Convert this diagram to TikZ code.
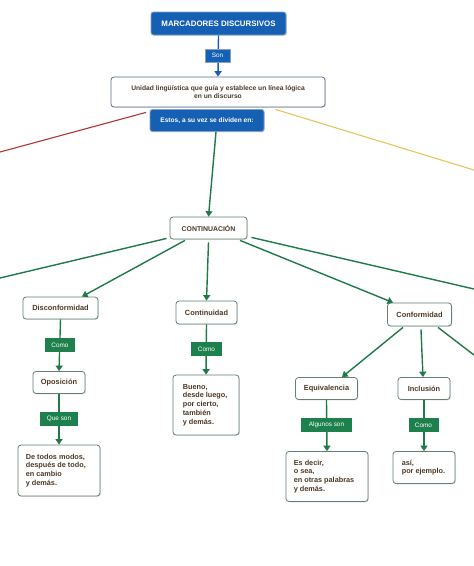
\documentclass[tikz,border=0pt]{standalone}
\usepackage{fontspec}
\setmainfont{Liberation Sans}
\usetikzlibrary{arrows.meta,shadows}
\definecolor{bluefill}{RGB}{22,96,180}
\definecolor{blueborder}{RGB}{130,160,200}
\definecolor{grn}{RGB}{32,122,72}
\definecolor{grnfill}{RGB}{30,128,76}
\definecolor{boxborder}{RGB}{100,128,112}
\definecolor{wborder}{RGB}{90,110,140}
\definecolor{txt}{RGB}{78,56,36}
\definecolor{redline}{RGB}{178,52,52}
\definecolor{yelline}{RGB}{232,196,92}
\tikzset{
  shadowed/.style={drop shadow={opacity=0.25,shadow xshift=0.8pt,shadow yshift=-0.8pt}},
  bluebox/.style={shadowed, draw=blueborder, line width=0.8pt, fill=bluefill, rounded corners=2.5pt,
    text=white, font=\fontsize{6.6}{7.5}\selectfont\bfseries, inner sep=0pt, align=center},
  wbox/.style={shadowed, draw=boxborder, line width=0.8pt, fill=white, rounded corners=3pt,
    text=txt, font=\fontsize{7.4}{8.5}\selectfont\bfseries, inner sep=0pt, align=center},
  boxtext/.style={anchor=west, align=left, inner sep=0pt, text=txt, font=\fontsize{7.3}{8.8}\selectfont\bfseries},
  glabel/.style={fill=grnfill, text=white, font=\fontsize{6.4}{7}\selectfont, inner sep=0pt},
  blabel/.style={fill=bluefill, draw=blueborder, line width=0.5pt, text=white, font=\fontsize{6.4}{7}\selectfont, inner sep=0pt},
  tip/.style={-{Triangle[length=5.5pt,width=7pt]}},
  garrow/.style={draw=grn, line width=1.4pt, tip},
  gline/.style={draw=grn, line width=1.4pt},
}
\begin{document}
\begin{tikzpicture}[x=1pt,y=-1pt]
\useasboundingbox[fill=white] (0,0) rectangle (474,566);

% top part
\node[bluebox, font=\fontsize{7.9}{8.5}\selectfont\bfseries, minimum width=135pt, minimum height=23pt] (title) at (218.5,23.5) {MARCADORES DISCURSIVOS};
\node[wbox, draw=wborder, font=\fontsize{6.7}{7.8}\selectfont\bfseries, minimum width=214pt, minimum height=30pt] (unidad) at (218,92) {Unidad lingüística que guía y establece un línea lógica\\en un discurso};

% side lines (behind the blue box)
\coordinate (redend) at (0,152);
\coordinate (yelend) at (474,170);
\draw[redline, line width=1.1pt] ([xshift=-2pt]unidad.south west -| 150,0) ++(-2,5) -- (redend);
\draw[yelline, line width=1.1pt] ([xshift=-50pt,yshift=-2pt]unidad.south east) -- (yelend);

\node[bluebox, minimum width=114pt, minimum height=22pt] (estos) at (207,120.5) {Estos, a su vez se dividen en:};

% level 2
\node[wbox, font=\fontsize{6.9}{7.5}\selectfont\bfseries, minimum width=77pt, minimum height=22pt] (cont) at (208.5,228) {CONTINUACIÓN};
\node[wbox, minimum width=75pt, minimum height=22pt] (discon) at (60.5,308) {Disconformidad};
\node[wbox, minimum width=61pt, minimum height=23pt] (contin) at (206.5,312.5) {Continuidad};
\node[wbox, minimum width=64pt, minimum height=23pt] (conform) at (419.5,314.5) {Conformidad};

% level 3
\node[wbox, minimum width=52pt, minimum height=22pt] (oposicion) at (59,382.5) {Oposición};
\node[wbox, minimum width=82pt, minimum height=51pt] (detodos) at (59,470.5) {};
\node[boxtext] at ([xshift=8pt]detodos.west) {De todos modos,\\después de todo,\\en cambio\\y demás.};
\node[wbox, minimum width=66pt, minimum height=60pt] (bueno) at (206,405) {};
\node[boxtext] at ([xshift=10pt]bueno.west) {Bueno,\\desde luego,\\por cierto,\\también\\y demás.};
\node[wbox, minimum width=62pt, minimum height=22pt] (equiv) at (326.5,388.5) {Equivalencia};
\node[wbox, minimum width=52pt, minimum height=22pt] (inclusion) at (424,388.5) {Inclusión};
\node[wbox, minimum width=82pt, minimum height=50pt] (esdecir) at (327,476.5) {};
\node[boxtext] at ([xshift=8pt]esdecir.west) {Es decir,\\o sea,\\en otras palabras\\y demás.};
\node[wbox, minimum width=62pt, minimum height=32pt] (asi) at (424,467.5) {};
\node[boxtext] at ([xshift=9pt]asi.west) {así,\\por ejemplo.};

% connectors
\draw[draw=bluefill, line width=1.4pt, tip] (title.south) -- (unidad.north);
\draw[garrow] ([xshift=9pt]estos.south) -- (cont.north);
\coordinate (leftend) at (0,278);
\coordinate (rightend) at (474,289);
\coordinate (confend) at (474,355);
\draw[gline] ([xshift=-3pt,yshift=1pt]cont.south west) -- (leftend);
\draw[gline] ([xshift=4pt,yshift=2pt]cont.south east) -- (rightend);
\draw[garrow] ([xshift=-23.5pt,yshift=-1pt]cont.south) -- ([xshift=21.5pt]discon.north);
\draw[garrow] ([yshift=-3pt]cont.south) -- (contin.north);
\draw[garrow] ([xshift=31.5pt,yshift=-1pt]cont.south) -- ([xshift=6pt]conform.north west);
\draw[garrow] ([xshift=-16.5pt,yshift=-1pt]conform.south) -- ([xshift=15.5pt]equiv.north);
\draw[garrow] ([xshift=1.5pt,yshift=-3pt]conform.south) -- ([xshift=-1pt]inclusion.north);
\draw[gline] ([xshift=18.5pt,yshift=-1pt]conform.south) -- (confend);
\draw[garrow] (discon.south) -- (oposicion.north);
\draw[garrow] (oposicion.south) -- (detodos.north);
\draw[garrow] (contin.south) -- (bueno.north);
\draw[garrow] (equiv.south) -- (esdecir.north);
\draw[garrow] (inclusion.south) -- (asi.north);

% labels on connectors
\node[blabel, minimum width=25pt, minimum height=13pt] (son) at (217.5,55.5) {Son};
\node[glabel, minimum width=30pt, minimum height=14pt] (como1) at (60,345) {Como};
\node[glabel, minimum width=38pt, minimum height=14pt] (queson) at (59,419) {Que son};
\node[glabel, minimum width=31pt, minimum height=14pt] (como2) at (206.5,349) {Como};
\node[glabel, minimum width=51pt, minimum height=14pt] (algunos) at (326.5,425) {Algunos son};
\node[glabel, minimum width=30pt, minimum height=14pt] (como3) at (423.5,425) {Como};
\end{tikzpicture}
\end{document}
